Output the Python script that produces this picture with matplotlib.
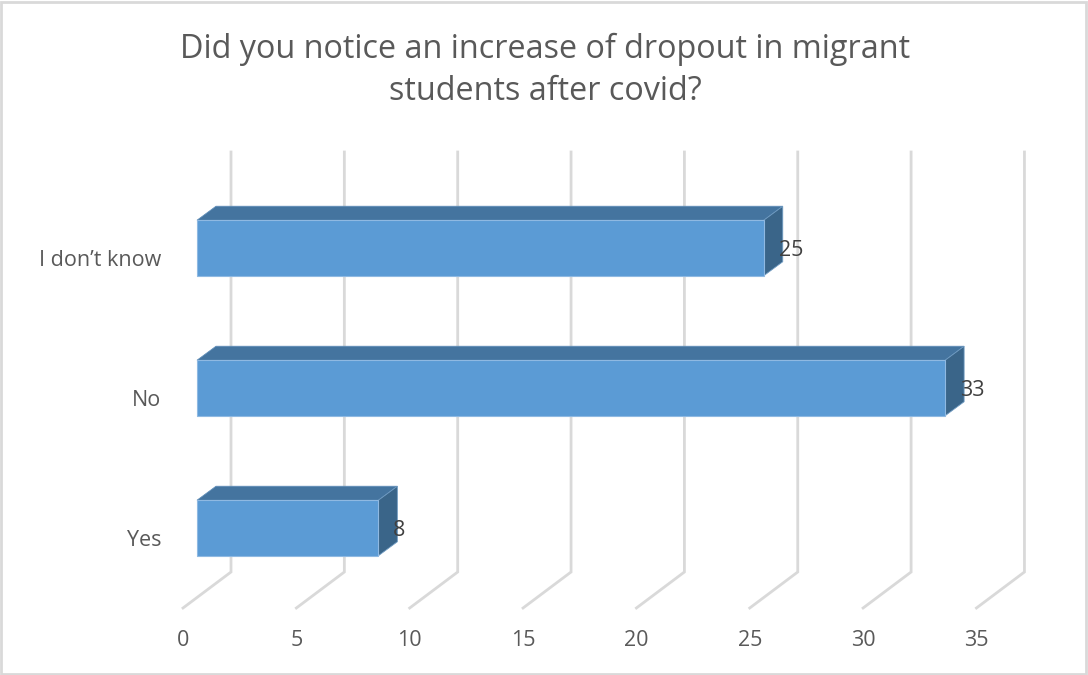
#!/usr/bin/env python3
"""
Horizontal 3D-look bar chart of the covid dropout survey question
"""

import matplotlib
matplotlib.use('Agg')
import matplotlib.pyplot as plt
from matplotlib.patches import Polygon, Rectangle

plt.rcParams['font.family'] = ['Open Sans', 'DejaVu Sans']

# Data
categories = ['Yes', 'No', 'I don’t know']
values = [8, 33, 25]
x_ticks = [0, 5, 10, 15, 20, 25, 30, 35]
title = 'Did you notice an increase of dropout in migrant\nstudents after covid?'

# Scales: one value unit and one category step, in pixels
W, H = 1088, 675
px_per_val = 22.67
px_per_cat = 140.0
zero_px = 197.0   # where bars start
base_py = 528.0   # centre of first bar

fig = plt.figure(figsize=(W / 100, H / 100), dpi=100)
ax = fig.add_axes([0, 0, 1, 1])
ax.set_xlim(-zero_px / px_per_val, (W - zero_px) / px_per_val)
ax.set_ylim((base_py - H) / px_per_cat, base_py / px_per_cat)
ax.axis('off')

# Depth offsets converted to data units
dx = 19.0 / px_per_val
dy = 14.0 / px_per_cat
bar_h = 55.5 / px_per_cat

# Floor and wall of the gridlines, relative to bar start / first bar centre
floor_dx = -14.0 / px_per_val
back_dx = 34.0 / px_per_val
floor_y = (base_py - 608) / px_per_cat
back_y = (base_py - 572) / px_per_cat
top_y = (base_py - 152) / px_per_cat

for t in x_ticks:
    ax.plot([t + floor_dx, t + back_dx, t + back_dx], [floor_y, back_y, top_y],
            color='#d9d9d9', linewidth=2.0, solid_joinstyle='miter', zorder=1)
    ax.text(t + floor_dx, (base_py - 640) / px_per_cat, str(t), color='#595959',
            fontsize=15.5, ha='center', va='center', zorder=5)

# Bars: front face from barh, top and side faces from the same values
for i, v in enumerate(values):
    bottom = i - bar_h / 2
    top = i + bar_h / 2
    ax.barh(i, v, height=bar_h, color='#5b9bd5', edgecolor='#8fb9e2',
            linewidth=0.8, zorder=3)
    ax.add_patch(Polygon([(0, top), (dx, top + dy), (v + dx, top + dy), (v, top)],
                         closed=True, facecolor='#44749f', edgecolor='#5f8db8',
                         linewidth=0.6, zorder=2))
    ax.add_patch(Polygon([(v, bottom), (v + dx, bottom + dy), (v + dx, top + dy), (v, top)],
                         closed=True, facecolor='#3a6589', edgecolor='#6f9bc2',
                         linewidth=0.6, zorder=2))
    ax.text(v + 15 / px_per_val, i - 2.5 / px_per_cat, str(v),
            color='#404040', fontsize=15.5, ha='left', va='center', zorder=5)
    ax.text(-35.5 / px_per_val, i - 13 / px_per_cat, categories[i], color='#595959',
            fontsize=15.5, ha='right', va='center', zorder=5)

# Chart title
ax.text((545.5 - zero_px) / px_per_val, (base_py - 70.5) / px_per_cat, title, color='#595959',
        fontsize=23.3, ha='center', va='center', linespacing=1.38, zorder=5)

# Chart frame
ax.add_patch(Rectangle((0.001, 0.001), 0.997, 0.996, transform=ax.transAxes,
                       fill=False, edgecolor='#d9d9d9', linewidth=2.0, zorder=6))

plt.savefig('out.png', dpi=100, facecolor='white')
